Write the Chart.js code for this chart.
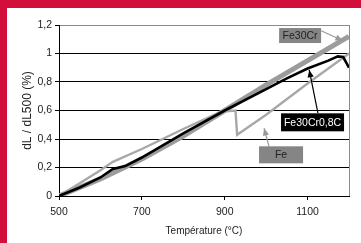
<!DOCTYPE html>
<html>
<head>
<meta charset="utf-8">
<script src="https://cdn.jsdelivr.net/npm/chart.js@4"></script>
<style>
  html, body { margin: 0; padding: 0; background: #fff; }
  #frame {
    position: absolute; left: 0; top: 0; width: 354px; height: 235px;
    border-left: 7px solid #d20f3b; border-top: 8px solid #d20f3b; background: #fff;
  }
  #chart-container { position: relative; width: 354px; height: 235px; }
</style>
</head>
<body>
<div id="frame"><div id="chart-container"><canvas id="myChart"></canvas></div></div>
<script>
// series data (temperature in °C, dL/dL500 in %)
var fe30crTemps = [500, 600, 700, 800, 900, 1000, 1100, 1200];
var fe30crVals  = [0, 0.12, 0.26, 0.42, 0.60, 0.78, 0.95, 1.12];

var fe30cr08cTemps = [500, 550, 600, 630, 660, 700, 800, 900, 1000, 1050, 1100, 1150, 1173, 1186, 1200];
var fe30cr08cVals  = [0, 0.06, 0.13, 0.19, 0.21, 0.27, 0.44, 0.60, 0.75, 0.825, 0.895, 0.95, 0.98, 0.975, 0.90];

var feTemps = [500, 550, 600, 630, 700, 750, 800, 890, 926, 930, 1000, 1100, 1200];
var feVals  = [0, 0.09, 0.18, 0.24, 0.33, 0.40, 0.47, 0.59, 0.60, 0.43, 0.57, 0.79, 1.0];

var xTicks = [500, 700, 900, 1100];
var yTicks = [0, 0.2, 0.4, 0.6, 0.8, 1, 1.2];

// callouts: label, box centre, arrow start, arrow tip (data coords)
var calloutNames = ['Fe30Cr', 'Fe30Cr0,8C', 'Fe'];
var calloutBox   = [[1082, 1.126], [1112, 0.517], [1036, 0.289]];
var calloutFrom  = [[1133, 1.16], [1125, 0.581], [1007, 0.347]];
var calloutTip   = [[1185, 1.09], [1104, 0.885], [995, 0.476]];

function toPoints(xs, ys) {
    return xs.map(function (x, i) { return { x: x, y: ys[i] }; });
}

Chart.defaults.font.family = "'Liberation Sans', Arial, sans-serif";
Chart.defaults.font.size = 10.5;
Chart.defaults.color = '#222';

// style of each callout box
var calloutStyle = [
    { w: 42, h: 15, bg: '#858585', fg: '#222', line: '#999' },
    { w: 63, h: 18, bg: '#000', fg: '#fff', line: '#000' },
    { w: 44, h: 17, bg: '#858585', fg: '#222', line: '#999' }
];

var frameLines = {
    id: 'frameLines',
    beforeDatasetsDraw: function (chart) {
        var ctx = chart.ctx, a = chart.chartArea;
        ctx.save();
        ctx.strokeStyle = '#8a8a8a';
        ctx.lineWidth = 1;
        ctx.beginPath();
        ctx.moveTo(Math.round(a.right) + 0.5, a.top);
        ctx.lineTo(Math.round(a.right) + 0.5, a.bottom);
        ctx.stroke();
        ctx.restore();
    }
};

var callouts = {
    id: 'callouts',
    afterDatasetsDraw: function (chart) {
        var ctx = chart.ctx;
        var xs = chart.scales.x, ys = chart.scales.y;
        ctx.save();
        for (var i = 0; i < calloutNames.length; i++) {
            var st = calloutStyle[i];
            var cx = xs.getPixelForValue(calloutBox[i][0]);
            var cy = ys.getPixelForValue(calloutBox[i][1]);
            var x0 = xs.getPixelForValue(calloutFrom[i][0]);
            var y0 = ys.getPixelForValue(calloutFrom[i][1]);
            var x1 = xs.getPixelForValue(calloutTip[i][0]);
            var y1 = ys.getPixelForValue(calloutTip[i][1]);

            // arrow
            ctx.strokeStyle = st.line;
            ctx.fillStyle = st.line;
            ctx.lineWidth = 1.2;
            ctx.beginPath();
            ctx.moveTo(x0, y0);
            ctx.lineTo(x1, y1);
            ctx.stroke();
            var ang = Math.atan2(y1 - y0, x1 - x0);
            ctx.beginPath();
            ctx.moveTo(x1, y1);
            ctx.lineTo(x1 - 8 * Math.cos(ang - 0.4), y1 - 8 * Math.sin(ang - 0.4));
            ctx.lineTo(x1 - 8 * Math.cos(ang + 0.4), y1 - 8 * Math.sin(ang + 0.4));
            ctx.closePath();
            ctx.fill();

            // box + text
            ctx.fillStyle = st.bg;
            ctx.fillRect(cx - st.w / 2, cy - st.h / 2, st.w, st.h);
            ctx.fillStyle = st.fg;
            ctx.font = "10.5px 'Liberation Sans', Arial, sans-serif";
            ctx.textAlign = 'center';
            ctx.textBaseline = 'middle';
            ctx.fillText(calloutNames[i], cx, cy + 0.5);
        }
        ctx.restore();
    }
};

var ctx = document.getElementById('myChart').getContext('2d');
var myChart = new Chart(ctx, {
    type: 'line',
    data: {
        datasets: [{
            label: 'Fe30Cr0,8C',
            data: toPoints(fe30cr08cTemps, fe30cr08cVals),
            borderColor: '#000',
            borderWidth: 2.6
        }, {
            label: 'Fe',
            data: toPoints(feTemps, feVals),
            borderColor: '#a8a8a8',
            borderWidth: 2.4
        }, {
            label: 'Fe30Cr',
            data: toPoints(fe30crTemps, fe30crVals),
            borderColor: '#9c9c9c',
            borderWidth: 5
        }]
    },
    options: {
        responsive: true,
        maintainAspectRatio: false,
        animation: false,
        elements: {
            point: { radius: 0 },
            line: { tension: 0, borderCapStyle: 'butt' }
        },
        layout: { padding: { top: 17, right: 12, left: 0, bottom: 0 } },
        plugins: {
            legend: { display: false },
            tooltip: { enabled: false }
        },
        scales: {
            x: {
                type: 'linear',
                min: 500,
                max: 1200,
                afterBuildTicks: function (axis) {
                    axis.ticks = xTicks.map(function (v) { return { value: v }; });
                },
                afterFit: function (axis) { axis.height = 47; },
                grid: {
                    drawOnChartArea: false,
                    drawTicks: true,
                    tickLength: 4,
                    tickColor: '#000'
                },
                border: { color: '#000', width: 1 },
                ticks: {
                    padding: 6,
                    maxRotation: 0,
                    font: { size: 10.5 },
                    callback: function (v) { return String(v); }
                },
                title: {
                    display: true,
                    text: 'Température (°C)',
                    font: { size: 10 },
                    padding: { top: 0, bottom: 6 }
                }
            },
            y: {
                min: 0,
                max: 1.2,
                afterBuildTicks: function (axis) {
                    axis.ticks = yTicks.map(function (v) { return { value: v }; });
                },
                afterFit: function (axis) { axis.width = 52; },
                grid: {
                    color: function (c) { return c.tick && c.tick.value === 1.2 ? '#8a8a8a' : '#000'; },
                    tickColor: '#000',
                    tickLength: 4
                },
                border: { color: '#000', width: 1 },
                ticks: {
                    padding: 3,
                    font: { size: 10.5 },
                    callback: function (v) { return String(Number(v.toFixed(1))).replace('.', ','); }
                },
                title: {
                    display: true,
                    text: 'dL / dL500 (%)',
                    font: { size: 12 },
                    padding: { top: 13, bottom: 0 }
                }
            }
        }
    },
    plugins: [frameLines, callouts]
});
</script>
</body>
</html>
